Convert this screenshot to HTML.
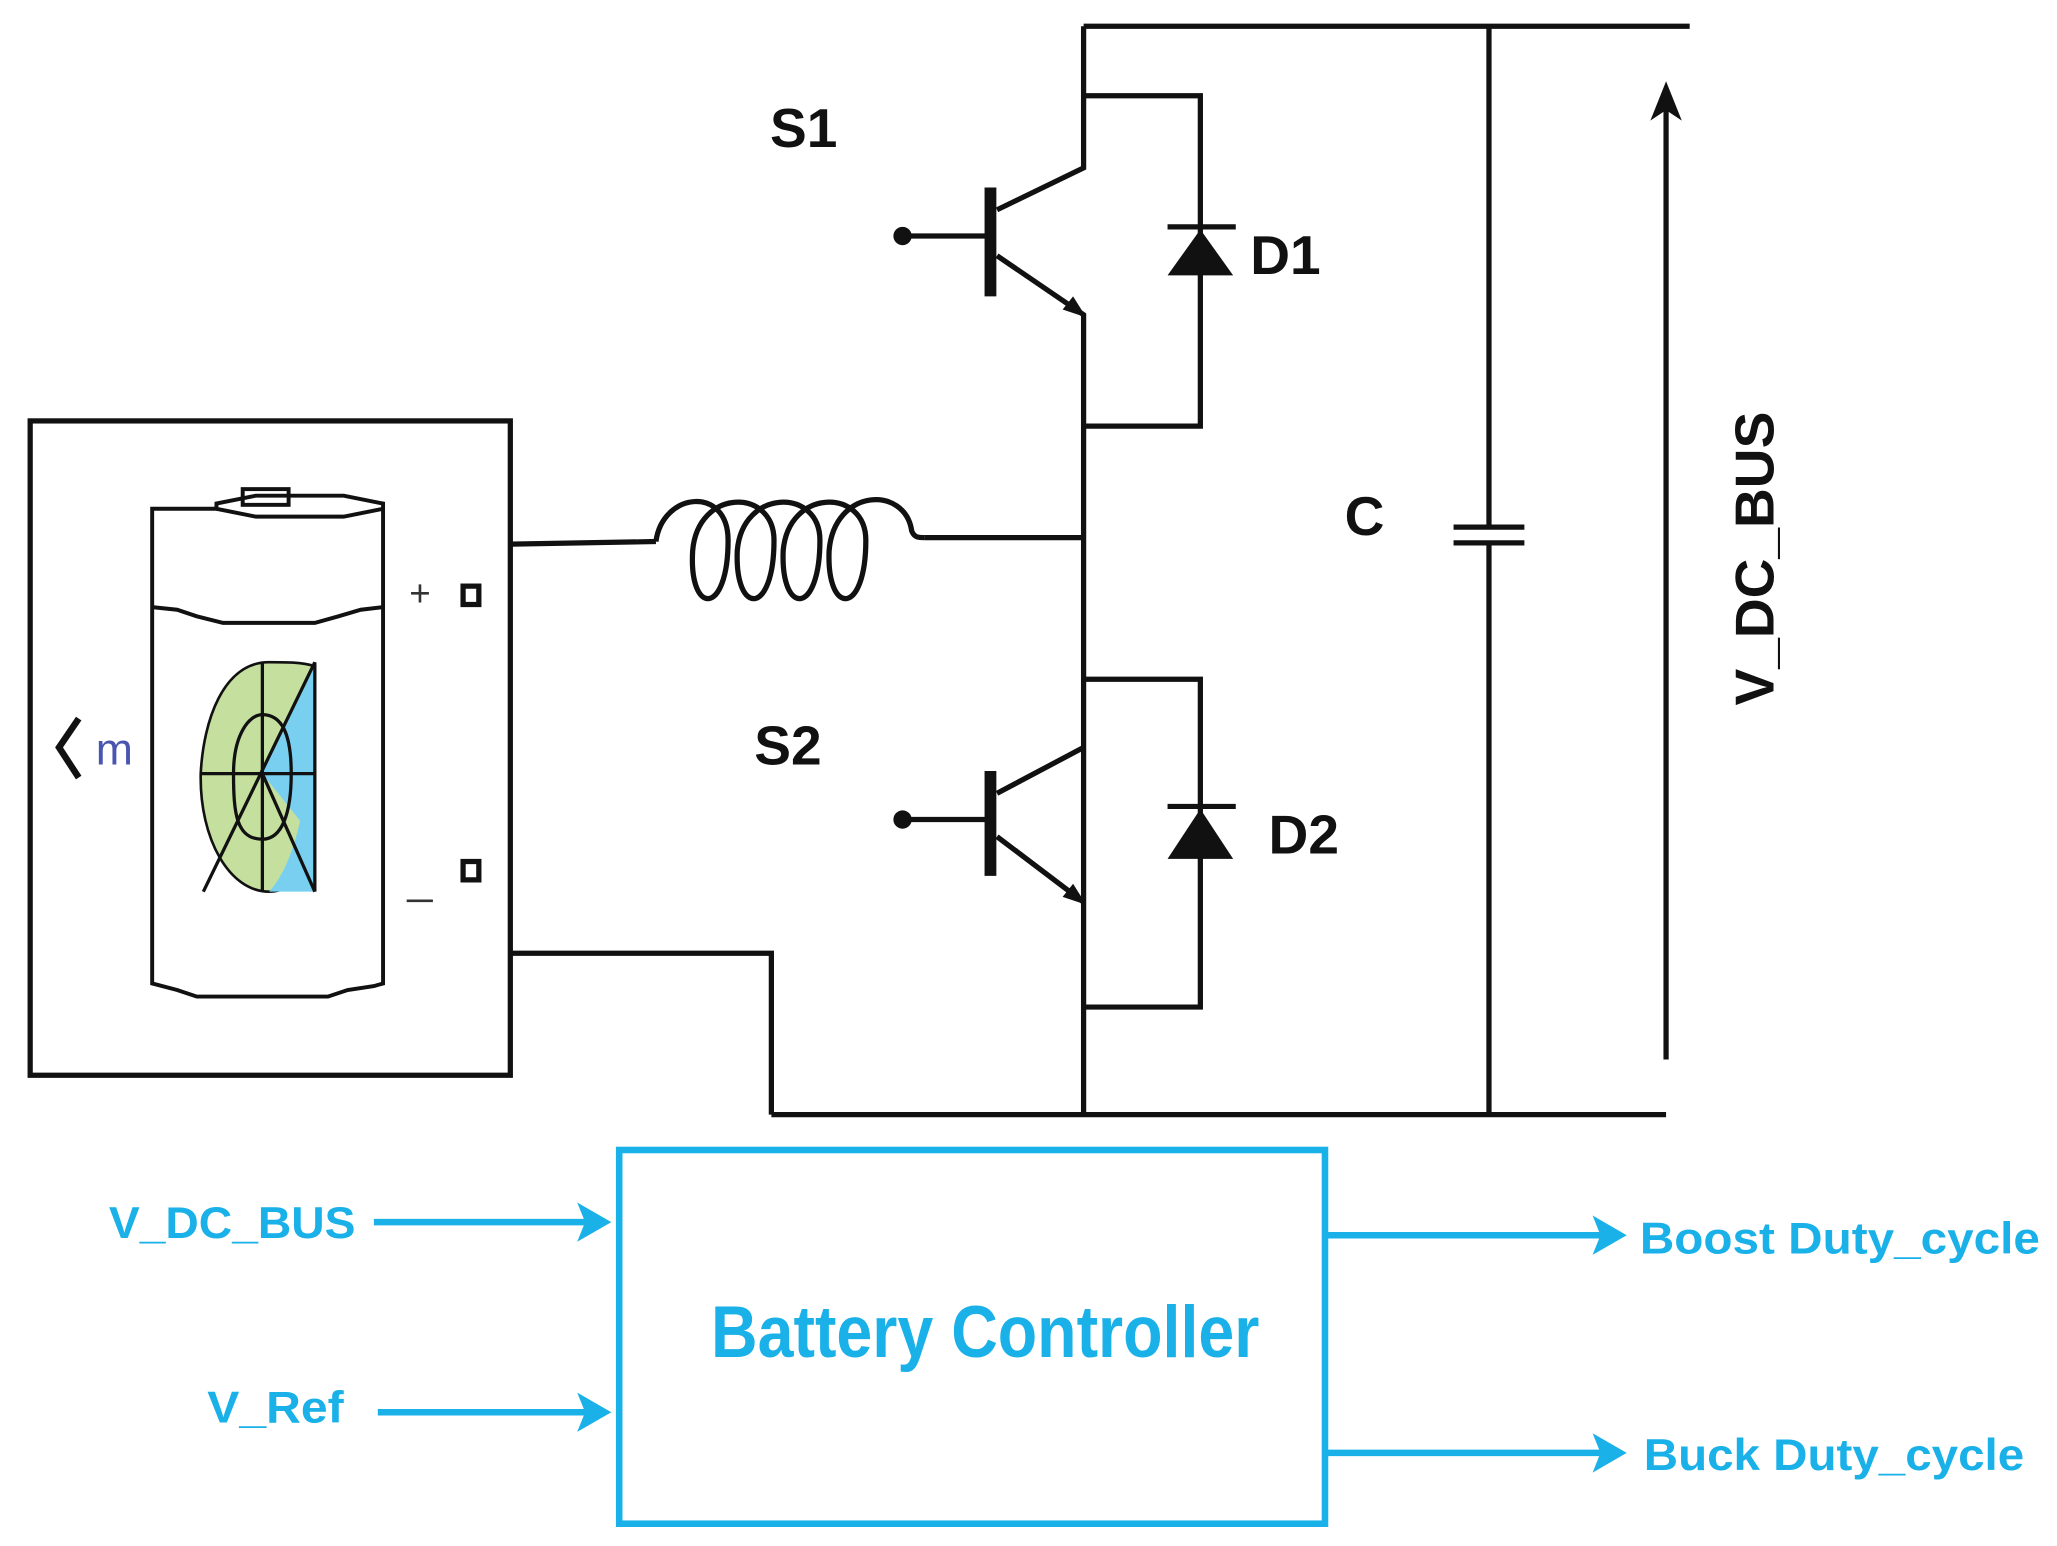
<!DOCTYPE html>
<html><head><meta charset="utf-8"><style>
html,body{margin:0;padding:0;background:#fff;}
svg{display:block;}
text{font-family:"Liberation Sans",sans-serif;font-weight:bold;}
</style></head><body>
<svg width="2057" height="1546" viewBox="0 0 1568 1179" preserveAspectRatio="none" xmlns="http://www.w3.org/2000/svg">
<g stroke="#111" fill="none" stroke-width="4">
<rect x="23" y="321" width="366" height="499"/>
<polyline points="826,20 1288,20"/>
<polyline points="588,850 1270,850"/>
<polyline points="390,727 588,727 588,850"/>
<polyline points="390,415 500,413"/>
<path d="M500,413 C505,375 555,370 555,412 C555,470 525,470 528,420 C532,372 590,372 590,412 C590,470 560,470 562,420 C566,372 625,372 625,412 C625,470 595,470 597,420 C601,372 660,372 660,412 C660,470 630,470 632,420 C636,372 690,370 695,405 C697,410 700,410 705,410"/>
<polyline points="705,410 826,410"/>
<polyline points="826,20 826,128 760,160"/>
<polyline points="760,195 826,240 826,850"/>
<line x1="755" y1="143" x2="755" y2="226" stroke-width="9"/>
<line x1="688" y1="180" x2="755" y2="180"/>
<polyline points="826,73 915,73 915,325 826,325"/>
<line x1="890" y1="173" x2="942" y2="173"/>
<polyline points="826,570 760,605"/>
<polyline points="760,638 826,688"/>
<line x1="755" y1="588" x2="755" y2="668" stroke-width="9"/>
<line x1="688" y1="625" x2="755" y2="625"/>
<polyline points="826,518 915,518 915,768 826,768"/>
<line x1="890" y1="615" x2="942" y2="615"/>
<polyline points="1135,20 1135,402"/>
<polyline points="1135,414 1135,850"/>
<line x1="1108" y1="402" x2="1162" y2="402"/>
<line x1="1108" y1="414" x2="1162" y2="414"/>
<line x1="1270" y1="808" x2="1270" y2="72"/>
</g>
<g fill="#111">
<circle cx="688" cy="180" r="7"/>
<circle cx="688" cy="625" r="7"/>
<polygon points="828,242 810,236 818,226"/>
<polygon points="828,690 810,684 818,674"/>
<polygon points="915,175 890,210 940,210"/>
<polygon points="915,617 890,655 940,655"/>
<polygon points="1270,62 1258,92 1270,84 1282,92"/>
</g>
<g stroke="#111" stroke-width="3" fill="none">
<path d="M116,750 L116,388 L165,388 L165,384 L195,378 L262,378 L292,384 L292,750 L285,752 L265,755 L250,760 L150,760 L135,755 Z"/>
<path d="M165,388 L195,394 L262,394 L292,388"/>
<rect x="185" y="373" width="35" height="12" stroke-width="3"/>
<path d="M116,463 L135,465 L150,470 L170,475 L240,475 L258,470 L275,465 L292,463"/>
</g>
<path d="M205,505 C170,505 155,550 153,590 C152,640 175,680 205,680 C230,680 240,650 240,640 L240,508 C230,505 220,505 205,505 Z" fill="#c5df9f" stroke="#111" stroke-width="2"/>
<path d="M240,508 L240,680 L205,680 C225,660 240,600 240,508 Z" fill="#79cff0"/>
<path d="M240,508 L200,590 L240,640 Z" fill="#79cff0"/>
<g stroke="#111" stroke-width="2.5" fill="none">
<line x1="153" y1="590" x2="240" y2="590"/>
<line x1="200" y1="505" x2="200" y2="680"/>
<line x1="240" y1="505" x2="240" y2="680"/>
<line x1="240" y1="505" x2="155" y2="680"/>
<line x1="200" y1="590" x2="240" y2="680"/>
<path d="M200,640 C180,640 178,620 178,590 C178,560 190,545 200,545 C215,545 222,560 222,590 C222,620 215,640 200,640"/>
</g>
<polyline points="60,548 45,570 60,593" stroke="#111" stroke-width="5" fill="none"/>
<text x="73" y="583" font-size="34" fill="#4a55b0" style="font-weight:normal">m</text>
<text x="312" y="462" font-size="28" fill="#333" style="font-weight:normal">+</text>
<line x1="310" y1="687" x2="330" y2="687" stroke="#333" stroke-width="2"/>
<rect x="353" y="447" width="12" height="14" fill="none" stroke="#111" stroke-width="4"/>
<rect x="353" y="657" width="12" height="14" fill="none" stroke="#111" stroke-width="4"/>
<text x="587" y="112" font-size="42" fill="#111">S1</text>
<text x="953" y="209" font-size="42" fill="#111">D1</text>
<text x="575" y="583" font-size="42" fill="#111">S2</text>
<text x="967" y="651" font-size="42" fill="#111">D2</text>
<text x="1025" y="408" font-size="42" fill="#111">C</text>
<text x="0" y="0" font-size="42" fill="#111" transform="translate(1352,538) rotate(-90)">V_DC_BUS</text>
<g stroke="#1ab0e8" stroke-width="5" fill="none">
<rect x="472" y="877" width="538" height="285"/>
<line x1="285" y1="932" x2="450" y2="932"/>
<line x1="288" y1="1077" x2="450" y2="1077"/>
<line x1="1012" y1="942" x2="1220" y2="942"/>
<line x1="1012" y1="1108" x2="1220" y2="1108"/>
</g>
<g fill="#1ab0e8">
<polygon points="466,932 440,917 446,932 440,947"/>
<polygon points="466,1077 440,1062 446,1077 440,1092"/>
<polygon points="1240,942 1214,927 1220,942 1214,957"/>
<polygon points="1240,1108 1214,1093 1220,1108 1214,1123"/>
</g>
<g fill="#1ab0e8">
<text x="83" y="944" font-size="34" textLength="188" lengthAdjust="spacingAndGlyphs">V_DC_BUS</text>
<text x="158" y="1085" font-size="34" textLength="104" lengthAdjust="spacingAndGlyphs">V_Ref</text>
<text x="1250" y="956" font-size="34" textLength="305" lengthAdjust="spacingAndGlyphs">Boost Duty_cycle</text>
<text x="1253" y="1121" font-size="34" textLength="290" lengthAdjust="spacingAndGlyphs">Buck Duty_cycle</text>
<text x="542" y="1035" font-size="56" textLength="418" lengthAdjust="spacingAndGlyphs">Battery Controller</text>
</g>
</svg>
</body></html>
